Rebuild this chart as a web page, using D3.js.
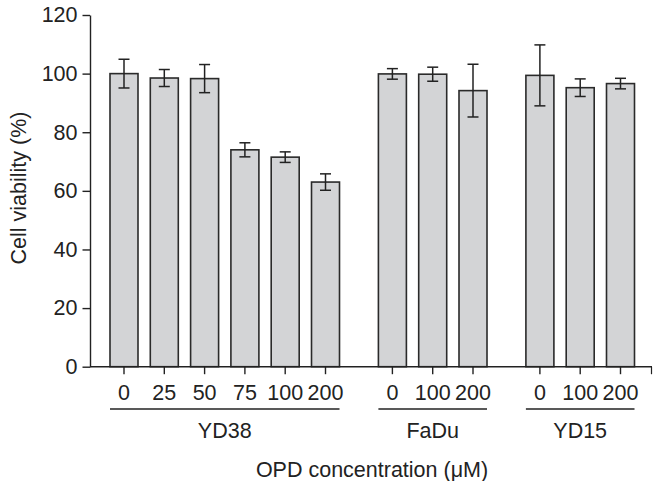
<!DOCTYPE html>
<html>
<head>
<meta charset="utf-8">
<script src="https://cdn.jsdelivr.net/npm/d3@7"></script>
<style>
  body { margin: 0; background: #fff; }
  text { font-family: "Liberation Sans", Arial, sans-serif; fill: #222; }
</style>
</head>
<body>
<div id="chart"></div>
<script>
// Cell viability bar chart

const width = 653;
const height = 481;
const fontSize = "21.5px";

// data
const groups = ["YD38", "FaDu", "YD15"];
const doses = [
  ["0", "25", "50", "75", "100", "200"],
  ["0", "100", "200"],
  ["0", "100", "200"]
];
const viability = [
  [100, 98.5, 98.3, 74, 71.5, 63],
  [99.9, 99.8, 94.2],
  [99.4, 95.2, 96.6]
];
const errors = [
  [4.9, 2.9, 4.8, 2.4, 1.8, 2.8],
  [1.8, 2.4, 9],
  [10.4, 3, 1.8]
];
const yTicks = [0, 20, 40, 60, 80, 100, 120];

// flatten into bars with a slot position (gap between groups)
const groupGap = 0.66;
const bars = [];
let slot = 0;
groups.forEach((g, gi) => {
  doses[gi].forEach((d, i) => {
    bars.push({
      group: g, gi: gi, dose: d,
      value: viability[gi][i], err: errors[gi][i],
      pos: slot + gi * groupGap
    });
    slot++;
  });
});

const svg = d3.select("#chart")
  .append("svg")
  .attr("width", width)
  .attr("height", height);

const y = d3.scaleLinear().domain([0, 120]).range([366.7, 15]);
const maxPos = d3.max(bars, d => d.pos);
const x = d3.scaleLinear().domain([0, maxPos]).range([124, 620.5]);
const barW = 28;
const axisX = 90;

// bars
svg.selectAll(".bar")
  .data(bars)
  .enter()
  .append("rect")
  .attr("class", "bar")
  .attr("x", d => x(d.pos) - barW / 2)
  .attr("y", d => y(d.value))
  .attr("width", barW)
  .attr("height", d => y(0) - y(d.value))
  .attr("fill", "#d3d4d6")
  .attr("stroke", "#2a2a2a")
  .attr("stroke-width", 1.6);

// error bars
const eb = svg.selectAll(".err")
  .data(bars)
  .enter()
  .append("g")
  .attr("class", "err")
  .attr("stroke", "#222")
  .attr("stroke-width", 1.5);

eb.append("line")
  .attr("x1", d => x(d.pos)).attr("x2", d => x(d.pos))
  .attr("y1", d => y(d.value + d.err)).attr("y2", d => y(d.value - d.err));
eb.append("line")
  .attr("x1", d => x(d.pos) - 5.5).attr("x2", d => x(d.pos) + 5.5)
  .attr("y1", d => y(d.value + d.err)).attr("y2", d => y(d.value + d.err));
eb.append("line")
  .attr("x1", d => x(d.pos) - 5.5).attr("x2", d => x(d.pos) + 5.5)
  .attr("y1", d => y(d.value - d.err)).attr("y2", d => y(d.value - d.err));

// y axis
const yAxis = svg.append("g")
  .attr("transform", `translate(${axisX},0)`)
  .call(d3.axisLeft(y).tickValues(yTicks).tickSize(7.5).tickPadding(5).tickSizeOuter(0));
yAxis.select(".domain").attr("stroke", "#222").attr("stroke-width", 1.4);
yAxis.selectAll(".tick line").attr("stroke", "#222").attr("stroke-width", 1.4);
yAxis.selectAll(".tick text")
  .attr("font-size", fontSize)
  .attr("font-family", "'Liberation Sans', Arial, sans-serif")
  .attr("fill", "#222");

// x axis line
svg.append("line")
  .attr("x1", axisX).attr("x2", 652)
  .attr("y1", y(0)).attr("y2", y(0))
  .attr("stroke", "#222").attr("stroke-width", 1.4);

// x ticks
svg.selectAll(".xtick")
  .data(bars)
  .enter()
  .append("line")
  .attr("x1", d => x(d.pos)).attr("x2", d => x(d.pos))
  .attr("y1", y(0)).attr("y2", y(0) + 7.5)
  .attr("stroke", "#222").attr("stroke-width", 1.4);

svg.append("line")
  .attr("x1", 651.5).attr("x2", 651.5)
  .attr("y1", y(0)).attr("y2", y(0) + 7.5)
  .attr("stroke", "#222").attr("stroke-width", 1.2);

svg.selectAll(".xlabel")
  .data(bars)
  .enter()
  .append("text")
  .attr("class", "xlabel")
  .attr("x", d => x(d.pos))
  .attr("y", 399.5)
  .attr("text-anchor", "middle")
  .attr("font-size", fontSize)
  .text(d => d.dose);

// group underlines and labels
const groupInfo = groups.map((g, gi) => {
  const gb = bars.filter(b => b.gi === gi);
  return {
    name: g,
    x0: x(gb[0].pos) - barW / 2,
    x1: x(gb[gb.length - 1].pos) + barW / 2
  };
});

svg.selectAll(".gline")
  .data(groupInfo)
  .enter()
  .append("line")
  .attr("x1", d => d.x0).attr("x2", d => d.x1)
  .attr("y1", 409).attr("y2", 409)
  .attr("stroke", "#222").attr("stroke-width", 1.4);

svg.selectAll(".glabel")
  .data(groupInfo)
  .enter()
  .append("text")
  .attr("x", d => (d.x0 + d.x1) / 2)
  .attr("y", 437.5)
  .attr("text-anchor", "middle")
  .attr("font-size", fontSize)
  .text(d => d.name);

// axis titles
svg.append("text")
  .attr("x", 372)
  .attr("y", 476.5)
  .attr("text-anchor", "middle")
  .attr("font-size", fontSize)
  .text("OPD concentration (μM)");

svg.append("text")
  .attr("transform", "translate(26,188) rotate(-90)")
  .attr("text-anchor", "middle")
  .attr("font-size", fontSize)
  .text("Cell viability (%)");
</script>
</body>
</html>
